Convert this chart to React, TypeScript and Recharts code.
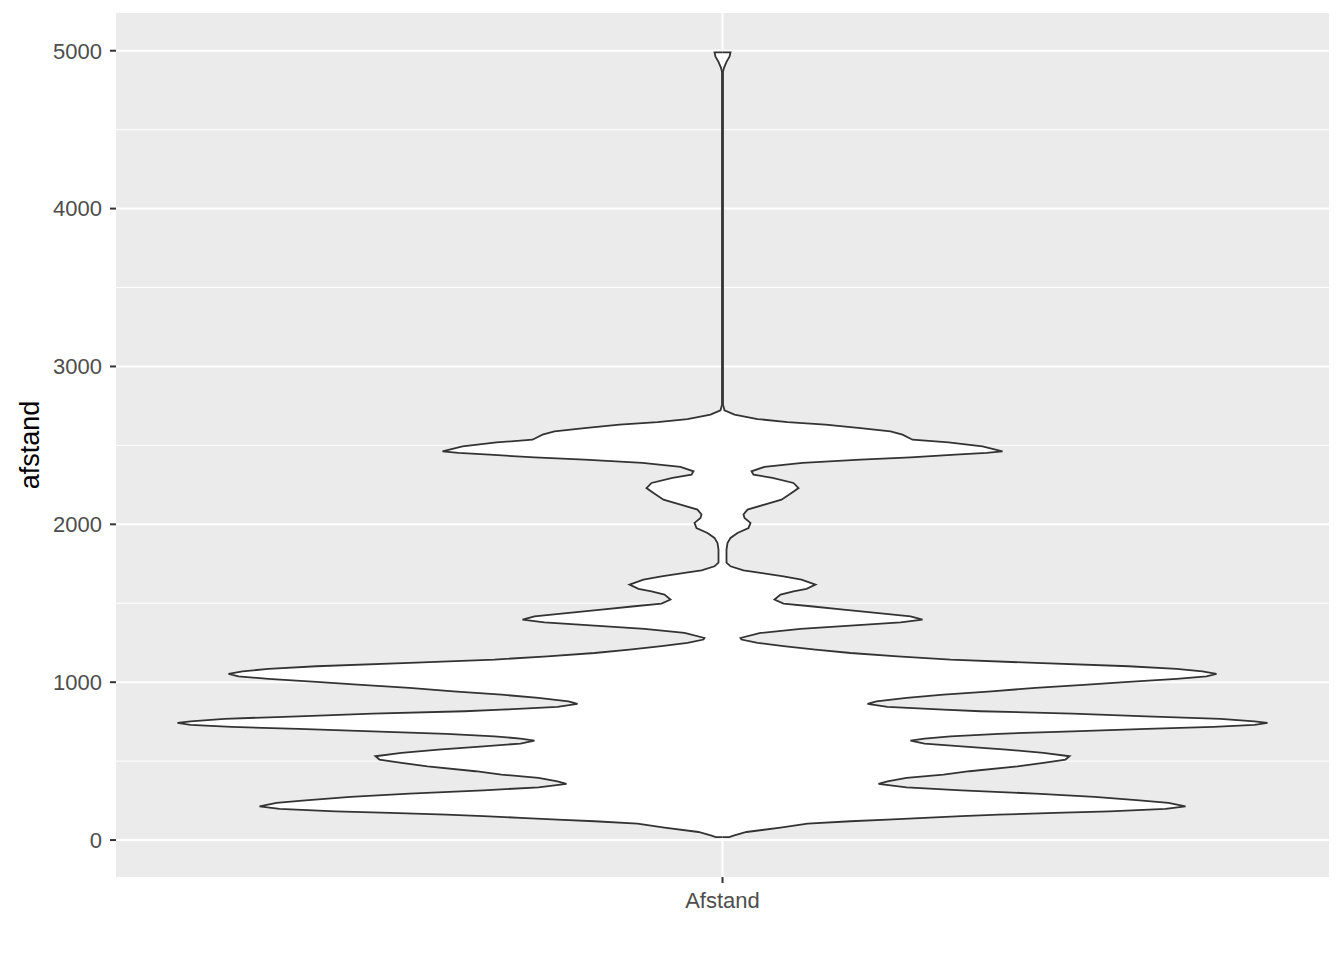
import { ComposedChart, Area, XAxis, YAxis, CartesianGrid } from "recharts";

// afstand values (y) and the violin half width at each of them
const afstand = [
  19, 19, 28, 51, 79, 104, 119, 130, 141, 151, 161, 172, 182, 198, 214, 236, 252, 274, 294, 315,
  334, 356, 372, 394, 415, 436, 467, 489, 510, 531, 552, 573, 594, 611, 630, 643, 657, 673, 689,
  704, 717, 730, 742, 752, 768, 784, 801, 816, 826, 844, 863, 879, 900, 921, 942, 964, 985, 1002,
  1021, 1037, 1053, 1069, 1084, 1101, 1122, 1143, 1164, 1185, 1206, 1228, 1249, 1270, 1280, 1312,
  1338, 1358, 1379, 1396, 1417, 1434, 1460, 1481, 1498, 1523, 1555, 1576, 1591, 1618, 1650, 1671,
  1692, 1709, 1734, 1758, 1840, 1882, 1914, 1945, 1977, 2009, 2040, 2062, 2093, 2125, 2156, 2199,
  2230, 2262, 2294, 2315, 2336, 2364, 2389, 2410, 2424, 2441, 2452, 2462, 2494, 2519, 2536, 2568,
  2589, 2610, 2632, 2648, 2667, 2695, 2722, 2758, 4867, 4892, 4930, 4962, 4990, 4990,
];
const halfWidth = [
  0, 6.7, 11, 24, 58, 85, 128, 165, 202, 239, 276, 332, 387, 443, 463, 446, 417, 372, 313, 239,
  184, 156, 165, 184, 221, 247, 295, 321, 343, 347, 321, 284, 239, 202, 188, 202, 228, 276, 350,
  424, 491, 532, 545, 532, 498, 424, 350, 258, 221, 165, 145, 154, 184, 221, 269, 313, 365, 406,
  454, 484, 494, 480, 454, 406, 313, 228, 175, 128, 93, 61, 35, 19, 18, 38,
  78, 128, 178, 200, 188, 161, 121, 88, 61, 52, 58, 71, 84, 93, 79, 61,
  38, 21, 8, 4, 4, 5, 8, 15, 26, 28, 22, 21, 25, 42, 59, 69,
  76, 71, 50, 31, 29, 42, 80, 138, 188, 233, 264, 280, 260, 226, 190, 180,
  168, 138, 103, 65, 35, 12, 2, 0.5, 0.5, 1.5, 4, 7, 8, 0,
];
const category = "Afstand";
const majorTicks = [0, 1000, 2000, 3000, 4000, 5000];
const minorTicks = [500, 1500, 2500, 3500, 4500];

const rows = afstand.map((v, i) => ({ v, band: [-halfWidth[i], halfWidth[i]] }));

const font = '"Liberation Sans", Arial, sans-serif';

export default function App() {
  return (
    <div style={{ position: "absolute", left: 0, top: 0, background: "#fff" }}>
      <ComposedChart
        width={1344}
        height={960}
        layout="vertical"
        data={rows}
        margin={{ top: 13, right: 15, bottom: 53, left: 16 }}
      >
        <CartesianGrid
          fill="#EBEBEB"
          stroke="#FFFFFF"
          strokeWidth={1}
          vertical={false}
          horizontalValues={minorTicks}
        />
        <CartesianGrid
          stroke="#FFFFFF"
          strokeWidth={2}
          horizontalValues={majorTicks}
          verticalValues={[0]}
        />
        <XAxis
          type="number"
          domain={[-606.5, 606.5]}
          allowDataOverflow
          ticks={[0]}
          tickFormatter={() => category}
          height={30}
          axisLine={false}
          tickLine={{ stroke: "#333333", strokeWidth: 2 }}
          tickSize={6}
          tickMargin={9}
          tick={{ fill: "#4D4D4D", fontSize: 22, fontFamily: font }}
        />
        <YAxis
          type="number"
          dataKey="v"
          reversed
          domain={[-234, 5239]}
          allowDataOverflow
          ticks={majorTicks}
          width={100}
          axisLine={false}
          tickLine={{ stroke: "#333333", strokeWidth: 2 }}
          tickSize={6}
          tickMargin={8}
          tick={{ fill: "#4D4D4D", fontSize: 22, fontFamily: font }}
          label={{
            value: "afstand",
            angle: -90,
            position: "center",
            dx: -37,
            style: { fill: "#000000", fontSize: 27, fontFamily: font },
          }}
        />
        <Area
          type="linear"
          dataKey="band"
          stroke="#333333"
          strokeWidth={1.8}
          fill="#FFFFFF"
          fillOpacity={1}
          dot={false}
          activeDot={false}
          isAnimationActive={false}
        />
      </ComposedChart>
    </div>
  );
}
